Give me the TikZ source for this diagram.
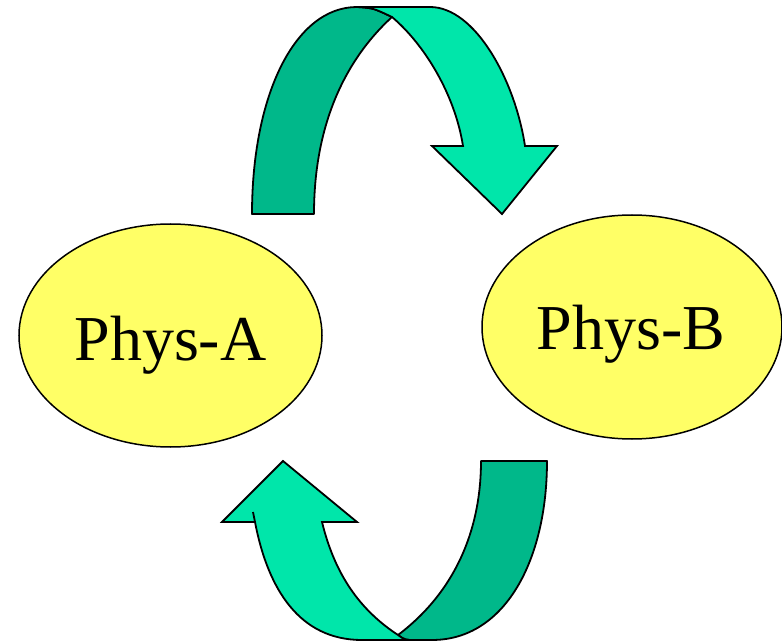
\documentclass[tikz,border=0pt]{standalone}
\usepackage{fontspec}
\setmainfont{Liberation Serif}
\usetikzlibrary{shapes.geometric}
\definecolor{ellfill}{RGB}{255,255,102}
\definecolor{darkg}{RGB}{0,184,138}
\definecolor{lightg}{RGB}{0,230,170}
\tikzset{
  phys/.style={ellipse, draw=black, line width=1.5pt, fill=ellfill, inner sep=0pt,
               font=\fontsize{64}{70}\selectfont},
  backband/.style={fill=darkg, draw=black, line width=1.8pt, line join=round},
  frontband/.style={fill=lightg, draw=black, line width=1.8pt, line join=miter},
}
\begin{document}
\begin{tikzpicture}[x=1pt, y=-1pt]
\useasboundingbox (0,0) rectangle (782,644);

\node[phys, minimum width=303pt, minimum height=223pt] (A) at (170.5,335.5) {};
\node[anchor=base] (Atext) at (170.5,360) {\fontsize{64}{70}\selectfont Phys-A};
\node[phys, minimum width=300pt, minimum height=224pt] (B) at (632,327) {};
\node[anchor=base] (Btext) at (631,350) {\fontsize{64}{70}\selectfont Phys-B};

% top arrow: back (dark) band
\draw[backband] (252,214) .. controls (252,95) and (295,7) .. (357,7)
   .. controls (373,8) .. (392,17)
   .. controls (345,60) and (314,125) .. (314,214) -- cycle;
% top arrow: front (light) band with head
\draw[frontband] (357,7) -- (430,7)
   .. controls (475,7) and (515,80) .. (525,146)
   -- (557,146) -- (502,214) -- (432,146) -- (463,146)
   .. controls (455,95) and (425,45) .. (392,17)
   .. controls (373,8) .. (357,7) -- cycle;

% bottom arrow: back (dark) band
\draw[backband] (481,461) -- (547,461)
   .. controls (547,560) and (505,640) .. (432,640)
   -- (415,640) .. controls (405,640) .. (398,635)
   .. controls (455,592) and (481,530) .. (481,461) -- cycle;
% bottom arrow: front (light) band with head
\draw[frontband] (255,522) .. controls (268,590) and (300,640) .. (362,640)
   -- (415,640) .. controls (405,640) .. (398,635)
   .. controls (360,610) and (335,575) .. (322,522)
   -- (357,522) -- (283,461) -- (222,522) -- (255,522);
\draw[line width=1.8pt] (255,522) -- (253,512);
\end{tikzpicture}
\end{document}
